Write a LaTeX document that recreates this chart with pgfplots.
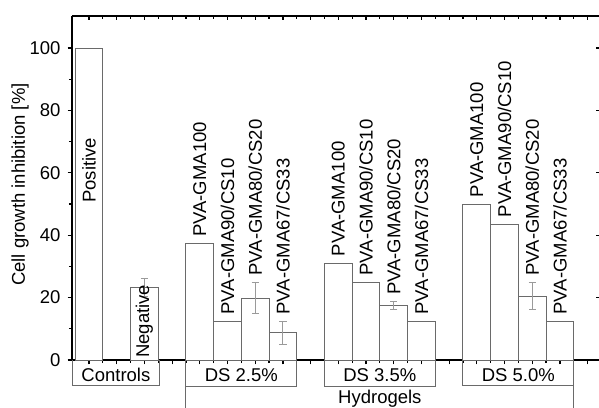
\documentclass[border=0pt]{standalone}
\usepackage{fontspec}
\setmainfont{Liberation Sans}
\usepackage{pgfplots}
\pgfplotsset{compat=1.18}
\definecolor{barline}{HTML}{6A6A6A}
\definecolor{errline}{HTML}{9A9A9A}
\definecolor{boxline}{HTML}{6A6A6A}
\newcommand{\lblfont}{\fontsize{9.25}{11}\selectfont}

\begin{document}
\begin{tikzpicture}
\pgfplotsset{
  frame/.style={
    scale only axis, width=264.1pt, height=172pt,
    xmin=0.386, xmax=19.455, ymin=0, ymax=110.26,
    axis line style={line width=0.75pt},
    every tick/.style={black, line width=0.6pt},
    major tick length=2.2pt, minor tick length=1.5pt,
    xtick={1,...,19}, minor x tick num=1,
  }
}
% frame on the top and right, ticks pointing inward
\begin{axis}[frame, axis x line*=top, axis y line*=right, tick align=inside,
  ytick={20,40,...,100}, xticklabels={}, yticklabels={}]
\end{axis}

\begin{axis}[frame, name=ax,
  axis x line*=bottom, axis y line*=left, tick align=outside,
  ytick={0,20,...,100}, minor y tick num=1, xticklabels={},
  clip=false,
  tick label style={font=\lblfont},
  /pgf/number format/assume math mode=true,
  ylabel={Cell growth inhibition [\%]},
  ylabel style={at={(axis description cs:-0.0985,0.51)}, anchor=center, font=\lblfont},
]
% bars
\addplot[ybar, bar width=1, bar shift=0pt, fill=white, draw=barline, line width=0.5pt]
  coordinates {
    (1,100) (3,23.3)
    (5,37.2) (6,12.3) (7,19.8) (8,8.7)
    (10,31.0) (11,24.8) (12,17.4) (13,12.3)
    (15,49.9) (16,43.5) (17,20.5) (18,12.3)
  };
% standard deviations
\addplot[draw=none, mark=none, forget plot,
  error bars/.cd, y dir=both, y explicit,
  error bar style={draw=errline, line width=0.5pt},
  error mark options={draw=errline, rotate=90, mark size=1.8pt, line width=0.5pt}]
  coordinates {
    (3,23.3) +- (0,2.9)
    (7,19.8) +- (0,5.0)
    (8,8.7) +- (0,3.6)
    (12,17.4) +- (0,1.2)
    (17,20.5) +- (0,4.3)
  };

% bar names
\node[rotate=90, anchor=west, inner sep=0pt, font=\lblfont] at (axis cs:1,50.3) {Positive};
\node[rotate=90, anchor=west, inner sep=0pt, font=\lblfont] at (axis cs:3,0.6) {Negative};

\node[rotate=90, anchor=west, font=\lblfont] at (axis cs:5,37.2) {PVA-GMA100};
\node[rotate=90, anchor=west, font=\lblfont] at (axis cs:6,12.3) {PVA-GMA90/CS10};
\node[rotate=90, anchor=west, font=\lblfont] at (axis cs:7,24.8) {PVA-GMA80/CS20};
\node[rotate=90, anchor=west, font=\lblfont] at (axis cs:8,12.3) {PVA-GMA67/CS33};

\node[rotate=90, anchor=west, font=\lblfont] at (axis cs:10,31.0) {PVA-GMA100};
\node[rotate=90, anchor=west, font=\lblfont] at (axis cs:11,24.8) {PVA-GMA90/CS10};
\node[rotate=90, anchor=west, font=\lblfont] at (axis cs:12,18.6) {PVA-GMA80/CS20};
\node[rotate=90, anchor=west, font=\lblfont] at (axis cs:13,12.3) {PVA-GMA67/CS33};

\node[rotate=90, anchor=west, font=\lblfont] at (axis cs:15,49.9) {PVA-GMA100};
\node[rotate=90, anchor=west, font=\lblfont] at (axis cs:16,43.5) {PVA-GMA90/CS10};
\node[rotate=90, anchor=west, font=\lblfont] at (axis cs:17,24.8) {PVA-GMA80/CS20};
\node[rotate=90, anchor=west, font=\lblfont] at (axis cs:18,12.3) {PVA-GMA67/CS33};

% group brackets under the axis
\draw[boxline, line width=0.5pt] (axis cs:0.39,0) |- (axis cs:3.55,-8.3) -- (axis cs:3.55,0);
\draw[boxline, line width=0.5pt] (axis cs:4.5,0) |- (axis cs:8.5,-8.55) -- (axis cs:8.5,0);
\draw[boxline, line width=0.5pt] (axis cs:9.5,0) |- (axis cs:13.5,-8.55) -- (axis cs:13.5,0);
\draw[boxline, line width=0.5pt] (axis cs:14.5,0) |- (axis cs:18.5,-8.3) -- (axis cs:18.5,0);
\draw[boxline, line width=0.5pt] (axis cs:4.5,-8.55) -- (axis cs:4.5,-16);
\draw[boxline, line width=0.5pt] (axis cs:18.5,-8.3) -- (axis cs:18.5,-16);

\node[anchor=base, font=\lblfont] at (axis cs:1.97,-7.0) {Controls};
\node[anchor=base, font=\lblfont] at (axis cs:6.5,-7.0) {DS 2.5\%};
\node[anchor=base, font=\lblfont] at (axis cs:11.5,-7.0) {DS 3.5\%};
\node[anchor=base, font=\lblfont] at (axis cs:16.5,-7.0) {DS 5.0\%};
\node[anchor=base, font=\lblfont] at (axis cs:11.5,-14.1) {Hydrogels};
\end{axis}

\pgfresetboundingbox
\path ([shift={(-36pt,-23.5pt)}]ax.south west) rectangle ([shift={(-0.6pt,8pt)}]ax.north east);
\end{tikzpicture}
\end{document}
